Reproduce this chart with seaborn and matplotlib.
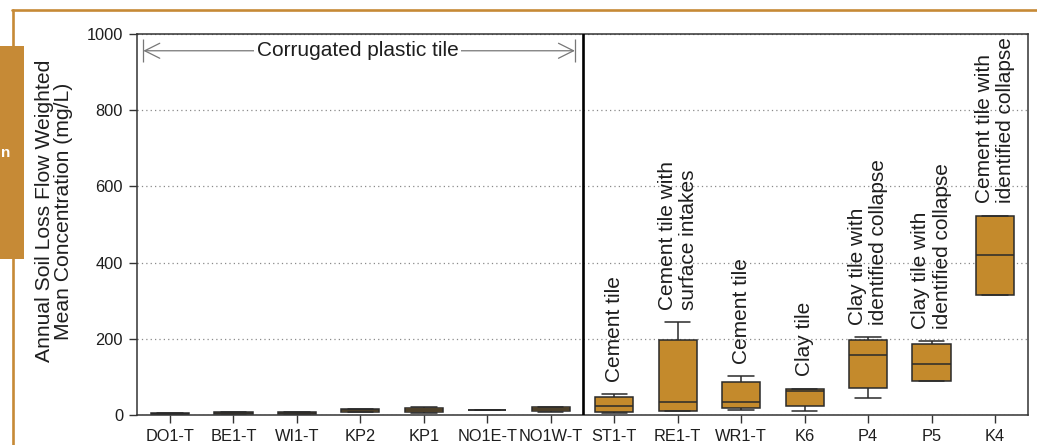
import numpy as np
import pandas as pd
import matplotlib
matplotlib.use("Agg")
import matplotlib.pyplot as plt
from matplotlib.patches import Rectangle
from matplotlib.lines import Line2D
import seaborn as sns

# Monitoring sites, in plotting order
sites = ["DO1-T", "BE1-T", "WI1-T", "KP2", "KP1", "NO1E-T", "NO1W-T",
         "ST1-T", "RE1-T", "WR1-T", "K6", "P4", "P5", "K4"]

# Five-number summaries of the annual flow-weighted mean concentration (mg/L)
conc_min = [1, 1, 1, 7, 6, 14, 9, 5, 10, 14, 10, 45, 88, 315]
conc_q1 = [2, 2, 2, 9, 8, 14, 11, 9, 11, 19, 24, 70, 88, 315]
conc_med = [3, 5, 4, 12, 13, 14, 16, 24, 34, 33, 64, 157, 134, 420]
conc_q3 = [5, 8, 7, 16, 19, 14, 21, 48, 196, 86, 68, 196, 186, 523]
conc_max = [6, 9, 8, 17, 20, 14, 22, 55, 243, 102, 69, 204, 193, 523]

# Tile descriptions written above the individual boxes
tile_notes = ["", "", "", "", "", "", "",
              "Cement tile",
              "Cement tile with\nsurface intakes",
              "Cement tile",
              "Clay tile",
              "Clay tile with\nidentified collapse",
              "Clay tile with\nidentified collapse",
              "Cement tile with\nidentified collapse"]
group_label = "Corrugated plastic tile"
y_ticks = [0, 200, 400, 600, 800, 1000]
y_label = "Annual Soil Loss Flow Weighted\nMean Concentration (mg/L)"

# Long table: five values per site reproduce min / quartiles / max exactly
rows = []
for s, a, b, c, d, e in zip(sites, conc_min, conc_q1, conc_med, conc_q3, conc_max):
    for v in (a, b, c, d, e):
        rows.append({"site": s, "conc": v})
df = pd.DataFrame(rows)

sns.set_theme(style="white")
plt.rcParams["font.family"] = ["Liberation Sans", "DejaVu Sans"]

W, H = 1037, 445
fig = plt.figure(figsize=(W / 100, H / 100), dpi=100)
ax = fig.add_axes([137 / W, 1 - 415 / H, (1028 - 137) / W, (415 - 34) / H])

BOX = "#C48A2C"
EDGE = "#2A2A2A"
ORANGE = "#C68A36"

box_kw = dict(data=df, x="site", y="conc", order=sites, color=BOX,
              saturation=1, width=0.6, whis=(0, 100), linecolor=EDGE,
              linewidth=1.1, fliersize=0, ax=ax)
try:
    sns.boxplot(**box_kw, capwidths=0.4)
except TypeError:
    ax.cla()
    sns.boxplot(**box_kw)

ax.set_xlim(-0.52, len(sites) - 0.48)
ax.set_ylim(0, 1000)
ax.set_yticks(y_ticks)
ax.set_xlabel("")
ax.set_ylabel("")

ax.yaxis.grid(True, color="#8a8a8a", linestyle=(0, (1, 2.5)), linewidth=0.9)
ax.xaxis.grid(False)
ax.set_axisbelow(True)

for sp in ax.spines.values():
    sp.set_color("#333333")
    sp.set_linewidth(1.1)

ax.tick_params(axis="both", bottom=True, left=True, direction="out",
               length=6, width=1, color="#333333", labelsize=11.8,
               labelcolor="#1e1e1e", pad=4)

# Divider between plastic and cement/clay tile sites
ax.axvline(6.5, color="black", lw=1.9, zorder=4)

# Tile descriptions above each whisker
for i, (note, top) in enumerate(zip(tile_notes, conc_max)):
    if note:
        ax.annotate(note, xy=(i, top), xytext=(0, 9), textcoords="offset points",
                    rotation=90, ha="center", va="bottom", multialignment="left",
                    fontsize=15, color="#1e1e1e", linespacing=1.15)

# Bracket spanning the corrugated plastic tile sites
y_g = 956
x0, x1 = -0.42, 6.38
ax.annotate("", xy=(x0, y_g), xytext=(x1, y_g),
            arrowprops=dict(arrowstyle="<->,head_length=0.9,head_width=0.45",
                            color="#777777", lw=0.9, shrinkA=0, shrinkB=0))
ax.vlines([x0, x1], 926, 988, color="#777777", lw=0.9)
ax.text((x0 + x1) / 2 - 0.02, y_g, group_label, ha="center", va="center",
        fontsize=15, color="#1e1e1e", zorder=5,
        bbox=dict(facecolor="white", edgecolor="none", pad=2))

# Y-axis title
fig.text(54 / W, 1 - 211 / H, y_label, rotation=90, ha="center", va="center",
         multialignment="center", fontsize=15.2, color="#1e1e1e", linespacing=1.0)

# Page frame and side tab
fig.add_artist(Line2D([12 / W, 1], [1 - 9.5 / H] * 2, color=ORANGE, lw=1.9,
                      transform=fig.transFigure))
fig.add_artist(Line2D([13.3 / W] * 2, [0, 1 - 9.5 / H], color=ORANGE, lw=1.9,
                      transform=fig.transFigure))
fig.add_artist(Rectangle((0, 1 - 259 / H), 24 / W, 213 / H, facecolor=ORANGE,
                         edgecolor="none", transform=fig.transFigure))
fig.text(1 / W, 1 - 153 / H, "n", color="white", fontsize=11,
         fontweight="bold", ha="left", va="center")

fig.savefig("out.png", dpi=100)
